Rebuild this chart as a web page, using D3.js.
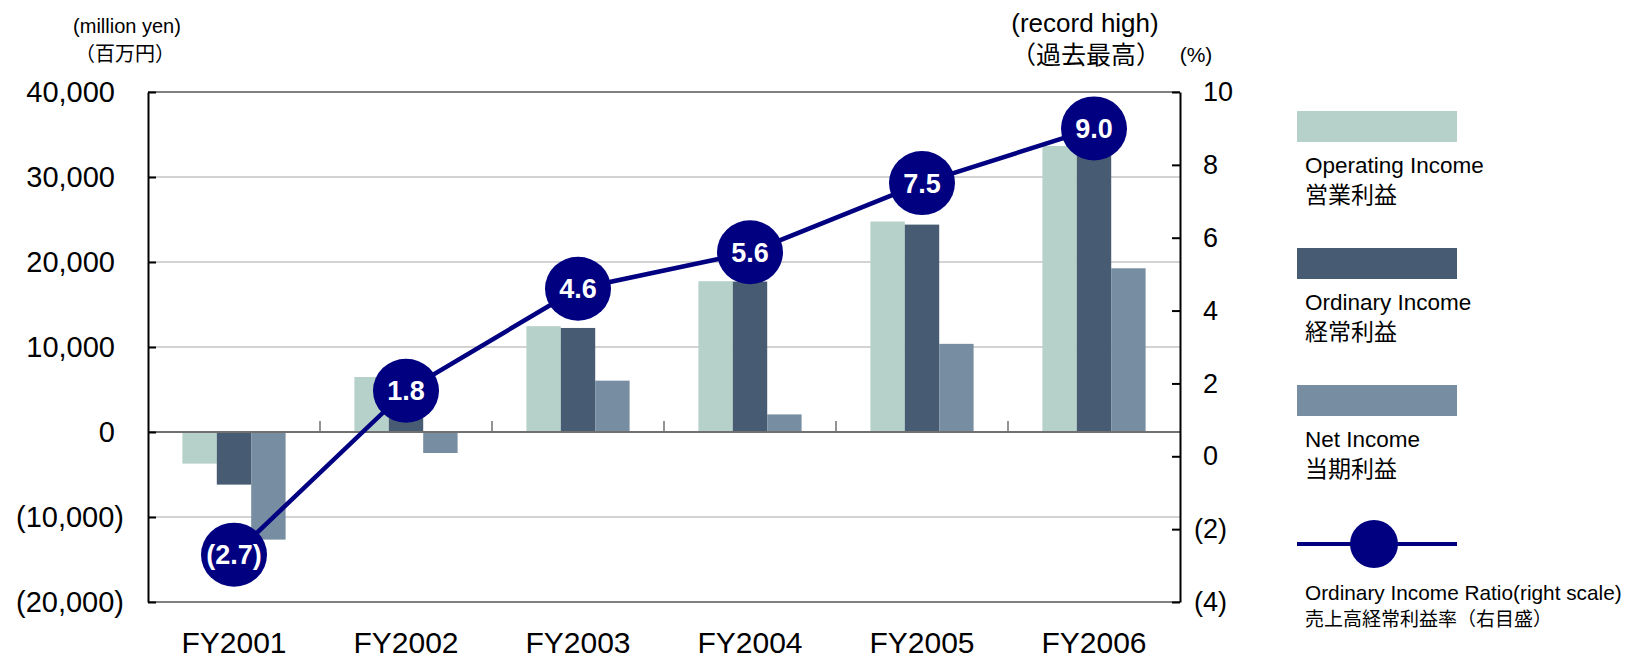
<!DOCTYPE html>
<html><head><meta charset="utf-8">
<script src="https://cdn.jsdelivr.net/npm/d3@7"></script>
<style>body{margin:0;background:#fff}svg{display:block}</style>
</head><body><svg id="c" width="1633" height="660"></svg>
<script>
const categories = ["FY2001","FY2002","FY2003","FY2004","FY2005","FY2006"];
const operatingIncome = [-3720, 6470, 12450, 17740, 24760, 33650];
const ordinaryIncome = [-6190, 6000, 12240, 17700, 24400, 33800];
const netIncome = [-12660, -2470, 6040, 2070, 10370, 19260];
const ratio = [-2.7, 1.8, 4.6, 5.6, 7.5, 9.0];
const ratioLabels = ["(2.7)","1.8","4.6","5.6","7.5","9.0"];
const leftTicks = [40000,30000,20000,10000,0,-10000,-20000];
const leftTickLabels = ["40,000","30,000","20,000","10,000","0","(10,000)","(20,000)"];
const rightTicks = [10,8,6,4,2,0,-2,-4];
const rightTickLabels = ["10","8","6","4","2","0","(2)","(4)"];
const seriesNames = ["Operating Income","Ordinary Income","Net Income"];
const seriesNamesJa = ["営業利益","経常利益","当期利益"];
const colors = ["#b5d1c9","#475c73","#778da1"];
const lineColor = "#000080";

const svg = d3.select("#c");
const L=148,R=1180,T=92,B=602;
const font = "'Liberation Sans', Arial, sans-serif";
const jfont = "'Noto Sans CJK JP', sans-serif";

const x = d3.scaleBand().domain(categories).range([L,R]);
const y = d3.scaleLinear().domain([-20000,40000]).range([B,T]);
const y2 = d3.scaleLinear().domain([-4,10]).range([B,T]);
const xs = d3.scaleBand().domain([0,1,2]).range([0, x.bandwidth()*0.6]);

// gridlines
svg.append("g").selectAll("line").data(leftTicks.filter(v=>v!==0 && v!==40000 && v!==-20000)).join("line")
  .attr("x1",L).attr("x2",R).attr("y1",d=>y(d)).attr("y2",d=>y(d))
  .attr("stroke","#a8a8a8").attr("stroke-width",1.2);
// top & bottom borders
svg.append("line").attr("x1",L).attr("x2",R).attr("y1",T).attr("y2",T).attr("stroke","#808080").attr("stroke-width",2);
svg.append("line").attr("x1",L).attr("x2",R).attr("y1",B).attr("y2",B).attr("stroke","#808080").attr("stroke-width",2);

// bars
const series=[operatingIncome,ordinaryIncome,netIncome];
series.forEach((vals,si)=>{
  svg.append("g").selectAll("rect").data(vals).join("rect")
    .attr("x",(d,i)=>x(categories[i])+x.bandwidth()*0.2+xs(si))
    .attr("width",xs.bandwidth())
    .attr("y",d=>Math.min(y(d),y(0)))
    .attr("height",d=>Math.abs(y(d)-y(0)))
    .attr("fill",colors[si]);
});

// zero line
svg.append("line").attr("x1",L).attr("x2",R).attr("y1",y(0)).attr("y2",y(0)).attr("stroke","#707070").attr("stroke-width",2);
// category ticks
svg.append("g").selectAll("line").data(categories.slice(1)).join("line")
  .attr("x1",d=>x(d)).attr("x2",d=>x(d)).attr("y1",y(0)).attr("y2",y(0)-11)
  .attr("stroke","#707070").attr("stroke-width",1.5);

// left axis (ticks inside)
const la = svg.append("g").attr("transform",`translate(${L},0)`)
  .call(d3.axisLeft(y).tickValues(leftTicks).tickFormat((d,i)=>leftTickLabels[i]).tickSize(-8).tickPadding(0).tickSizeOuter(0));
la.select(".domain").attr("stroke","#000").attr("stroke-width",2);
la.selectAll(".tick line").attr("stroke","#000").attr("stroke-width",2);
la.selectAll("text").attr("font-family",font).attr("font-size",29).attr("fill","#000")
  .attr("x",(d,i)=>leftTickLabels[i].startsWith("(") ? -24 : -33);

// right axis (ticks inside)
const ra = svg.append("g").attr("transform",`translate(${R},0)`)
  .call(d3.axisRight(y2).tickValues(rightTicks).tickFormat((d,i)=>rightTickLabels[i]).tickSize(-8).tickPadding(0).tickSizeOuter(0));
ra.select(".domain").attr("stroke","#000").attr("stroke-width",2);
ra.selectAll(".tick line").attr("stroke","#000").attr("stroke-width",2);
ra.selectAll("text").attr("font-family",font).attr("font-size",27).attr("fill","#000")
  .attr("x",(d,i)=>rightTickLabels[i].startsWith("(") ? 14 : 23);

// x labels
svg.append("g").selectAll("text").data(categories).join("text")
  .attr("x",d=>x(d)+x.bandwidth()/2).attr("y",653).attr("text-anchor","middle")
  .attr("font-family",font).attr("font-size",30).text(d=>d);

// line
const line = d3.line().x((d,i)=>x(categories[i])+x.bandwidth()/2).y(d=>y2(d));
svg.append("path").datum(ratio).attr("d",line).attr("fill","none").attr("stroke",lineColor).attr("stroke-width",4.5);
const pts = svg.append("g").selectAll("g").data(ratio).join("g")
  .attr("transform",(d,i)=>`translate(${x(categories[i])+x.bandwidth()/2},${y2(d)})`);
pts.append("ellipse").attr("rx",33).attr("ry",32).attr("fill",lineColor);
pts.append("text").attr("text-anchor","middle").attr("dy","0.36em")
  .attr("font-family",font).attr("font-weight","bold").attr("font-size",27).attr("fill","#fff")
  .text((d,i)=>ratioLabels[i]);

// unit labels
function txt(xx,yy,s,size,f,anchor){svg.append("text").attr("x",xx).attr("y",yy).attr("font-family",f).attr("font-size",size).attr("text-anchor",anchor||"middle").text(s);}
txt(127,33,"(million yen)",20,font);
txt(125,61,"（百万円）",20,jfont);
txt(1085,32,"(record high)",26,font);
txt(1086,64,"（過去最高）",25,jfont);
txt(1196,62,"(%)",21,font);

// legend
const lx=1297, lw=160;
const ly=[111,248,385];
series.forEach((s,i)=>{
  svg.append("rect").attr("x",lx).attr("y",ly[i]).attr("width",lw).attr("height",31).attr("fill",colors[i]);
  txt(lx+8,ly[i]+62,seriesNames[i],22.5,font,"start");
  txt(lx+8,ly[i]+92,seriesNamesJa[i],23,jfont,"start");
});
svg.append("line").attr("x1",lx).attr("x2",lx+lw).attr("y1",544).attr("y2",544).attr("stroke",lineColor).attr("stroke-width",4);
svg.append("circle").attr("cx",lx+77).attr("cy",544).attr("r",24).attr("fill",lineColor);
txt(lx+8,600,"Ordinary Income Ratio(right scale)",20.8,font,"start");
txt(lx+8,626,"売上高経常利益率（右目盛）",19,jfont,"start");
</script></body></html>
